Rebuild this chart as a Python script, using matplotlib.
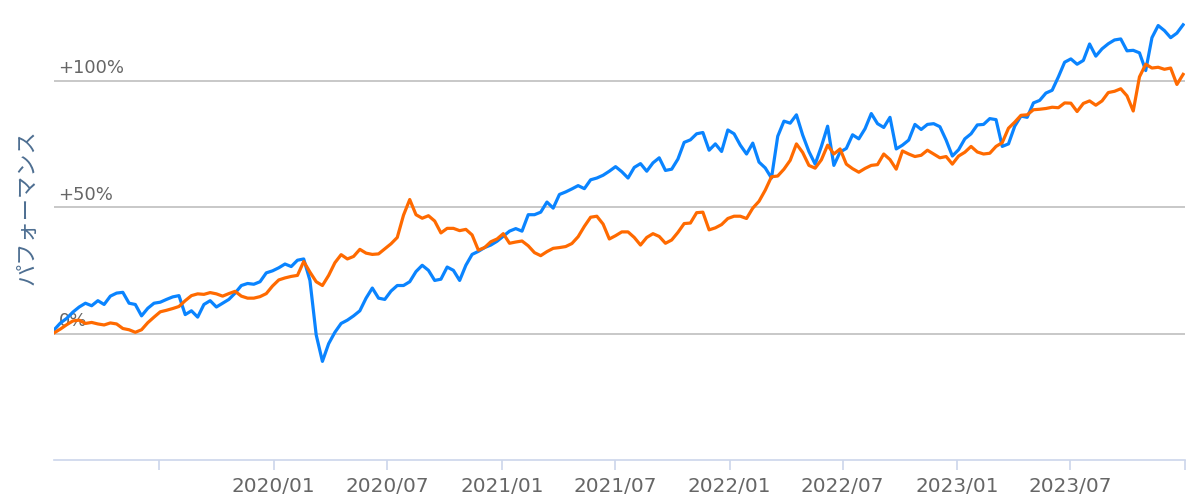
import matplotlib
matplotlib.use("Agg")
import matplotlib.pyplot as plt
import matplotlib.dates as mdates
import pandas as pd

# ---- data (cumulative performance, %) sampled every 10 days ----
start_date = "2019-01-14"
fund_a = [1.5, 4.2, 6, 8.5, 10.5, 12, 11, 13, 11.5, 14.8,
          16, 16.3, 12, 11.5, 7, 10, 12, 12.4, 13.5, 14.5,
          15, 7.5, 9, 6.5, 11.5, 13, 10.5, 12, 13.5, 16,
          19, 19.8, 19.5, 20.5, 24, 24.8, 26, 27.5, 26.5, 29,
          29.5, 21, -0.5, -11, -4, 0.5, 4, 5.3, 7, 9,
          14, 18, 14, 13.5, 16.8, 19, 19, 20.5, 24.5, 27,
          25, 21, 21.5, 26.3, 25, 21, 27, 31.3, 32.5, 34,
          35, 36.5, 38.5, 40.5, 41.5, 40.5, 47, 47, 48, 52,
          49.6, 55, 56, 57.2, 58.5, 57.3, 60.8, 61.5, 62.6, 64.2,
          66, 64, 61.5, 65.7, 67.2, 64.2, 67.5, 69.5, 64.5, 65,
          69, 75.6, 76.6, 79, 79.5, 72.5, 75, 72, 80.5, 79,
          74.5, 71, 75.3, 67.8, 65.5, 61.5, 78, 84, 83.2, 86.5,
          78.5, 72, 67, 74, 82, 66.5, 71.8, 73.2, 78.6, 77,
          81, 87, 83, 81.5, 85.5, 73, 74.5, 76.5, 82.7, 80.7,
          82.7, 83, 81.8, 76.5, 70.2, 72.7, 77, 79, 82.5, 82.7,
          85, 84.6, 74, 75, 82, 86, 85.5, 91.2, 92.2, 95.1,
          96.2, 101.5, 107.3, 108.6, 106.5, 108, 114.5, 109.7, 112.6, 114.6,
          116.1, 116.5, 111.8, 112, 111, 104, 117, 121.8, 119.8, 117,
          118.8, 122.1]
fund_b = [0.3, 1.8, 3.5, 5, 5.3, 4, 4.4, 3.8, 3.4, 4.2,
          3.8, 2, 1.5, 0.5, 1.5, 4.3, 6.5, 8.6, 9.2, 9.9,
          10.7, 13, 15, 15.7, 15.5, 16.2, 15.7, 14.8, 15.8, 16.7,
          14.8, 14, 14, 14.6, 15.8, 18.8, 21.2, 22, 22.6, 23,
          28.5, 24.3, 20.5, 19, 23, 28, 31.2, 29.5, 30.5, 33.3,
          31.8, 31.3, 31.5, 33.5, 35.5, 38, 46.8, 53, 47, 45.6,
          46.6, 44.5, 39.8, 41.6, 41.6, 40.7, 41.2, 39, 33, 34,
          36.3, 37.4, 39.5, 35.7, 36.2, 36.6, 34.7, 32, 30.8, 32.4,
          33.7, 34, 34.4, 35.6, 38.3, 42.4, 46, 46.4, 43.3, 37.4,
          38.7, 40.2, 40.2, 38, 35, 38, 39.5, 38.4, 35.7, 37,
          40, 43.5, 43.7, 47.8, 48, 41, 41.8, 43.1, 45.5, 46.4,
          46.4, 45.5, 49.6, 52.3, 56.7, 62, 62.3, 65, 68.5, 75,
          71.6, 66.5, 65.4, 68.7, 74.5, 71, 73, 67, 65.2, 63.8,
          65.3, 66.5, 66.8, 71, 68.8, 65, 72.2, 71, 70, 70.5,
          72.5, 71, 69.5, 70, 67, 70.2, 71.7, 74, 71.8, 71,
          71.3, 74, 75.5, 81.2, 83.6, 86.3, 86.5, 88.5, 88.7, 89,
          89.5, 89.3, 91.2, 91.1, 87.8, 91, 92, 90.3, 92, 95.3,
          95.8, 96.8, 94, 88, 101.5, 106.5, 105, 105.3, 104.5, 105,
          98.5, 102.5]
dates = pd.date_range(start_date, periods=len(fund_a), freq="10D")

tick_dates = ["2019-07-01", "2020-01-01", "2020-07-01", "2021-01-01",
              "2021-07-01", "2022-01-01", "2022-07-01", "2023-01-01",
              "2023-07-01", "2024-01-01"]
tick_labels = ["", "2020/01", "2020/07", "2021/01", "2021/07",
               "2022/01", "2022/07", "2023/01", "2023/07", ""]
y_ticks = [0, 50, 100]
y_tick_labels = ["0%", "+50%", "+100%"]
y_title = "パフォーマンス"

# ---- figure ----
W, H = 1200, 501
fig = plt.figure(figsize=(W / 100, H / 100), dpi=100)
ax = fig.add_axes([53.6 / W, (H - 460) / H, (1185 - 53.6) / W, 460 / H])

for y in y_ticks:
    ax.axhline(y, color="#c4c4c4", lw=1.3, zorder=1)

ax.plot(dates, fund_a, color="#0a84ff", lw=2.3, zorder=3, solid_joinstyle="round")
ax.plot(dates, fund_b, color="#ff6a00", lw=2.3, zorder=4, solid_joinstyle="round")

ax.set_ylim(-50, 131.9)
ax.set_xlim(pd.Timestamp("2019-01-13"), pd.Timestamp("2024-01-01"))

for s in ["left", "right", "top"]:
    ax.spines[s].set_visible(False)
ax.spines["bottom"].set_color("#ccd6eb")
ax.spines["bottom"].set_linewidth(1.2)

ax.set_xticks(pd.to_datetime(tick_dates))
ax.set_xticklabels(tick_labels, fontsize=14.4, color="#666666", family="DejaVu Sans")
ax.tick_params(axis="x", direction="out", length=7, width=1.2, color="#ccd6eb", pad=5)
ax.set_yticks([])

for y, lab in zip(y_ticks, y_tick_labels):
    ax.annotate(lab, xy=(0, y), xycoords=("axes fraction", "data"),
                xytext=(3.5, 2.5), textcoords="offset points",
                ha="left", va="bottom", fontsize=13, color="#666666",
                family="DejaVu Sans", zorder=2)

fig.text(27 / W, 1 - 207 / H, y_title, rotation=90, ha="center", va="center",
         fontsize=16, color="#4d6e91", family=["Noto Sans CJK JP", "DejaVu Sans"])

fig.savefig("out.png", dpi=100)
